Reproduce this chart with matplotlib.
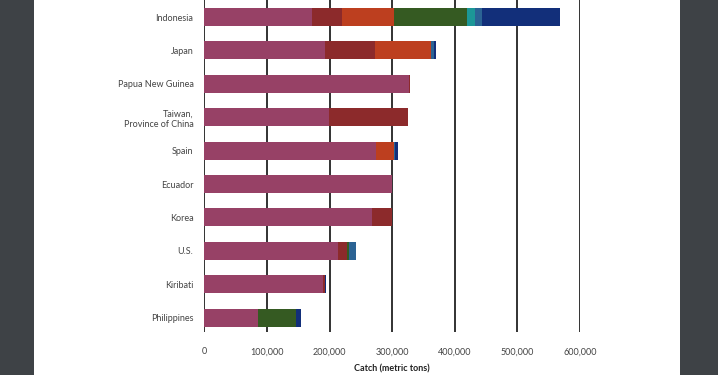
import matplotlib.pyplot as plt
from matplotlib.patches import Rectangle

# countries, top to bottom
countries = ["Indonesia", "Japan", "Papua New Guinea", "Taiwan,\nProvince of China",
             "Spain", "Ecuador", "Korea", "U.S.", "Kiribati", "Philippines"]

# catch by segment (metric tons)
seg_names = ["Seg 1", "Seg 2", "Seg 3", "Seg 4", "Seg 5", "Seg 6", "Seg 7"]
seg1 = [172000, 192000, 327000, 199000, 274000, 300000, 268000, 214000, 190000, 86000]
seg2 = [48000, 80000, 2000, 126000, 0, 0, 31000, 13000, 2000, 0]
seg3 = [83000, 90000, 0, 0, 29000, 0, 0, 0, 0, 0]
seg4 = [116000, 0, 0, 0, 0, 0, 0, 4000, 0, 60000]
seg5 = [13000, 0, 0, 0, 0, 0, 0, 0, 0, 0]
seg6 = [12000, 4000, 0, 0, 2000, 0, 0, 11000, 0, 0]
seg7 = [124000, 4000, 0, 0, 4000, 0, 0, 0, 2000, 8000]

colors = ["#974166", "#8c2a2b", "#bd3f1f", "#355a22", "#1c9797", "#2b6394", "#122f7a"]
xticks = [0, 100000, 200000, 300000, 400000, 500000, 600000]

fig = plt.figure(figsize=(7.18, 3.75), dpi=100)
fig.patch.set_facecolor("white")

# dark side strips of the page
fig.patches.append(Rectangle((0, 0), 34 / 718, 1, transform=fig.transFigure,
                             facecolor="#3e4246", edgecolor="none", zorder=0))
fig.patches.append(Rectangle((680 / 718, 0), 38 / 718, 1, transform=fig.transFigure,
                             facecolor="#3e4246", edgecolor="none", zorder=0))

ax = fig.add_axes([204.5 / 718, 1 - 332 / 375, 375.5 / 718, 332 / 375])

ypos = list(range(len(countries)))
left = [0] * len(countries)
for vals, c, name in zip([seg1, seg2, seg3, seg4, seg5, seg6, seg7], colors, seg_names):
    ax.barh(ypos, vals, left=left, height=0.54, color=c, label=name, zorder=3)
    left = [a + b for a, b in zip(left, vals)]

ax.set_xlim(0, 600000)
ax.set_ylim(9.43, -0.51)
ax.set_yticks(ypos)
ax.set_yticklabels(countries, fontsize=6.5, color="#444444", family="Lato")
ax.set_xticks(xticks)
ax.set_xticklabels([f"{v:,}" for v in xticks], fontsize=6.5, color="#444444", family="Lato")
ax.tick_params(axis="both", length=0)
ax.tick_params(axis="y", pad=8)
ax.tick_params(axis="x", pad=11)
for v in xticks:
    ax.axvline(v, color="#222222", lw=1.3, zorder=1)
for s in ax.spines.values():
    s.set_visible(False)
ax.set_xlabel("Catch (metric tons)", fontsize=6.5, fontweight="bold", family="Lato",
              color="#222222", labelpad=6)

fig.savefig("out.png", dpi=100)
